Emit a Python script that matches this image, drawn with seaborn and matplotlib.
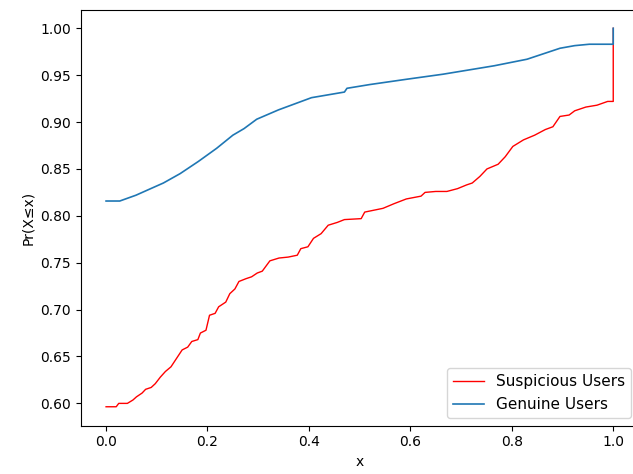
import matplotlib
matplotlib.use("Agg")
import matplotlib.pyplot as plt
import seaborn as sns
import pandas as pd
from matplotlib.lines import Line2D

series_names = ["Suspicious Users", "Genuine Users"]

suspicious_x = [0.0, 0.020, 0.025, 0.042, 0.053, 0.060, 0.071, 0.078, 0.089, 0.097,
                0.107, 0.117, 0.128, 0.139, 0.150, 0.161, 0.169, 0.181, 0.186, 0.197,
                0.204, 0.215, 0.222, 0.236, 0.244, 0.254, 0.262, 0.276, 0.287, 0.298,
                0.308, 0.323, 0.341, 0.359, 0.377, 0.384, 0.398, 0.409, 0.424, 0.438,
                0.456, 0.470, 0.503, 0.510, 0.528, 0.546, 0.568, 0.592, 0.621, 0.629,
                0.650, 0.672, 0.693, 0.711, 0.722, 0.737, 0.751, 0.773, 0.787, 0.802,
                0.823, 0.845, 0.866, 0.881, 0.895, 0.913, 0.924, 0.946, 0.968, 0.989,
                1.0, 1.0]
suspicious_y = [0.5964, 0.5964, 0.600, 0.600, 0.6036, 0.607, 0.611, 0.615, 0.617, 0.621,
                0.628, 0.634, 0.639, 0.648, 0.657, 0.660, 0.666, 0.668, 0.675, 0.678,
                0.694, 0.696, 0.703, 0.708, 0.717, 0.722, 0.730, 0.733, 0.735, 0.739,
                0.741, 0.752, 0.755, 0.756, 0.758, 0.765, 0.767, 0.776, 0.781, 0.790,
                0.793, 0.796, 0.797, 0.804, 0.806, 0.808, 0.813, 0.818, 0.821, 0.825,
                0.826, 0.826, 0.829, 0.833, 0.835, 0.842, 0.850, 0.855, 0.863, 0.874,
                0.881, 0.886, 0.892, 0.895, 0.906, 0.9075, 0.912, 0.916, 0.918, 0.922,
                0.922, 1.0]

genuine_x = [0.0, 0.027, 0.059, 0.088, 0.113, 0.146, 0.182, 0.218, 0.250, 0.272,
             0.297, 0.340, 0.405, 0.470, 0.475, 0.520, 0.592, 0.664, 0.765, 0.830,
             0.895, 0.924, 0.953, 1.0, 1.0]
genuine_y = [0.8158, 0.8158, 0.822, 0.829, 0.835, 0.845, 0.858, 0.872, 0.886, 0.893,
             0.903, 0.913, 0.926, 0.932, 0.936, 0.940, 0.9456, 0.951, 0.960, 0.967,
             0.9787, 0.9815, 0.983, 0.983, 1.0]

df = pd.concat([
    pd.DataFrame({"x": suspicious_x, "y": suspicious_y, "group": series_names[0]}),
    pd.DataFrame({"x": genuine_x, "y": genuine_y, "group": series_names[1]}),
], ignore_index=True)

fig = plt.figure(figsize=(6.33, 4.74), dpi=100)
ax = fig.add_axes([80.7 / 633, 1 - 425.7 / 474, (638.6 - 80.7) / 633, (425.7 - 10) / 474])

palette = {"Suspicious Users": "#ff0000", "Genuine Users": "#1f77b4"}
widths = {"Suspicious Users": 1.0, "Genuine Users": 1.2}
for name in series_names:
    sns.lineplot(data=df[df.group == name], x="x", y="y", color=palette[name],
                 estimator=None, sort=False, linewidth=widths[name], ax=ax, legend=False)

ax.set_xlabel("x")
ax.set_ylabel("Pr(X≤x)")
ax.set_xticks([0.0, 0.2, 0.4, 0.6, 0.8, 1.0])
ax.set_yticks([0.60, 0.65, 0.70, 0.75, 0.80, 0.85, 0.90, 0.95, 1.00])
ax.set_xlim(-0.05, 1.05)
ax.set_ylim(0.5762, 1.0195)

handles = [Line2D([], [], color=palette[n], linewidth=widths[n]) for n in series_names]
ax.legend(handles, series_names, loc="lower right", fontsize=11)

fig.savefig("out.png", dpi=100)
